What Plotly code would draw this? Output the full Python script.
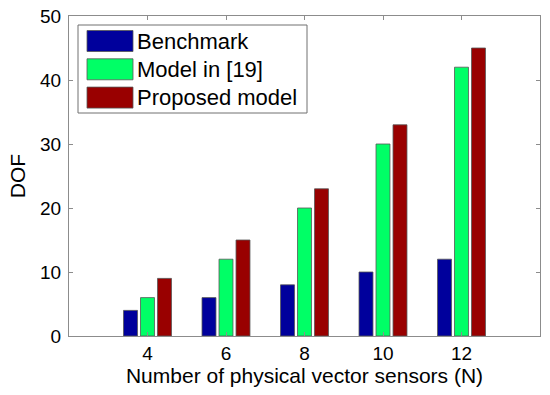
import plotly.graph_objects as go

categories = [4, 6, 8, 10, 12]
series_names = ["Benchmark", "Model in [19]", "Proposed model"]
benchmark = [4, 6, 8, 10, 12]
model19 = [6, 12, 20, 30, 42]
proposed = [9, 15, 23, 33, 45]
y_ticks = [0, 10, 20, 30, 40, 50]
colors = ["#00009C", "#00FF66", "#990000"]

W, H = 550, 395
L, R, T, B = 69, 10, 16, 59
pw, ph = W - L - R, H - T - B

def px2x(px):
    return (px - L) / pw

def py2y(py):
    return (H - B - py) / ph

fig = go.Figure()
for name, vals, col in zip(series_names, [benchmark, model19, proposed], colors):
    fig.add_trace(go.Bar(x=categories, y=vals, name=name, marker_color=col,
                         marker_line_color="#555555", marker_line_width=0.8,
                         showlegend=False))

fam = "Liberation Sans, Arial, sans-serif"
tick_font = dict(family=fam, size=19, color="black")
title_font = dict(family=fam, size=21, color="black")
leg_font = dict(family=fam, size=22, color="black")
axis_common = dict(showline=True, linecolor="#8c8c8c", linewidth=1, mirror="ticks",
                   ticks="inside", ticklen=4, tickcolor="#8c8c8c", showgrid=False,
                   zeroline=False, tickfont=tick_font, automargin=False)

fig.update_layout(
    width=W, height=H,
    margin=dict(l=L, r=R, t=T, b=B),
    paper_bgcolor="white", plot_bgcolor="white",
    barmode="group", bargap=0.35, bargroupgap=0.18,
    font=tick_font,
    xaxis=dict(range=[2, 14], tickvals=categories, ticktext=[str(c) for c in categories],
               title=dict(text="Number of physical vector sensors (N)", font=title_font, standoff=0),
               **axis_common),
    yaxis=dict(range=[0, 50], tickvals=y_ticks, ticklabelstandoff=3,
               title=dict(text="DOF", font=title_font, standoff=8),
               **axis_common),
)

# legend drawn manually (MATLAB style)
shapes = [dict(type="rect", xref="paper", yref="paper",
               x0=px2x(78), x1=px2x(307), y0=py2y(113), y1=py2y(25),
               line=dict(color="#707070", width=1), fillcolor="white", layer="above")]
annotations = []
for i, (name, col) in enumerate(zip(series_names, colors)):
    top = 30.5 + i * 28.3
    shapes.append(dict(type="rect", xref="paper", yref="paper",
                       x0=px2x(87), x1=px2x(133), y0=py2y(top + 21), y1=py2y(top),
                       line=dict(color="#555555", width=0.8), fillcolor=col, layer="above"))
    annotations.append(dict(xref="paper", yref="paper", x=px2x(135), y=py2y(top + 10.5),
                            text=name, showarrow=False, xanchor="left", yanchor="middle",
                            font=leg_font))
fig.update_layout(shapes=shapes, annotations=annotations)

fig.write_html("out.html", config={"displayModeBar": False},
               post_script="document.body.style.margin='0';document.body.style.padding='0';")
